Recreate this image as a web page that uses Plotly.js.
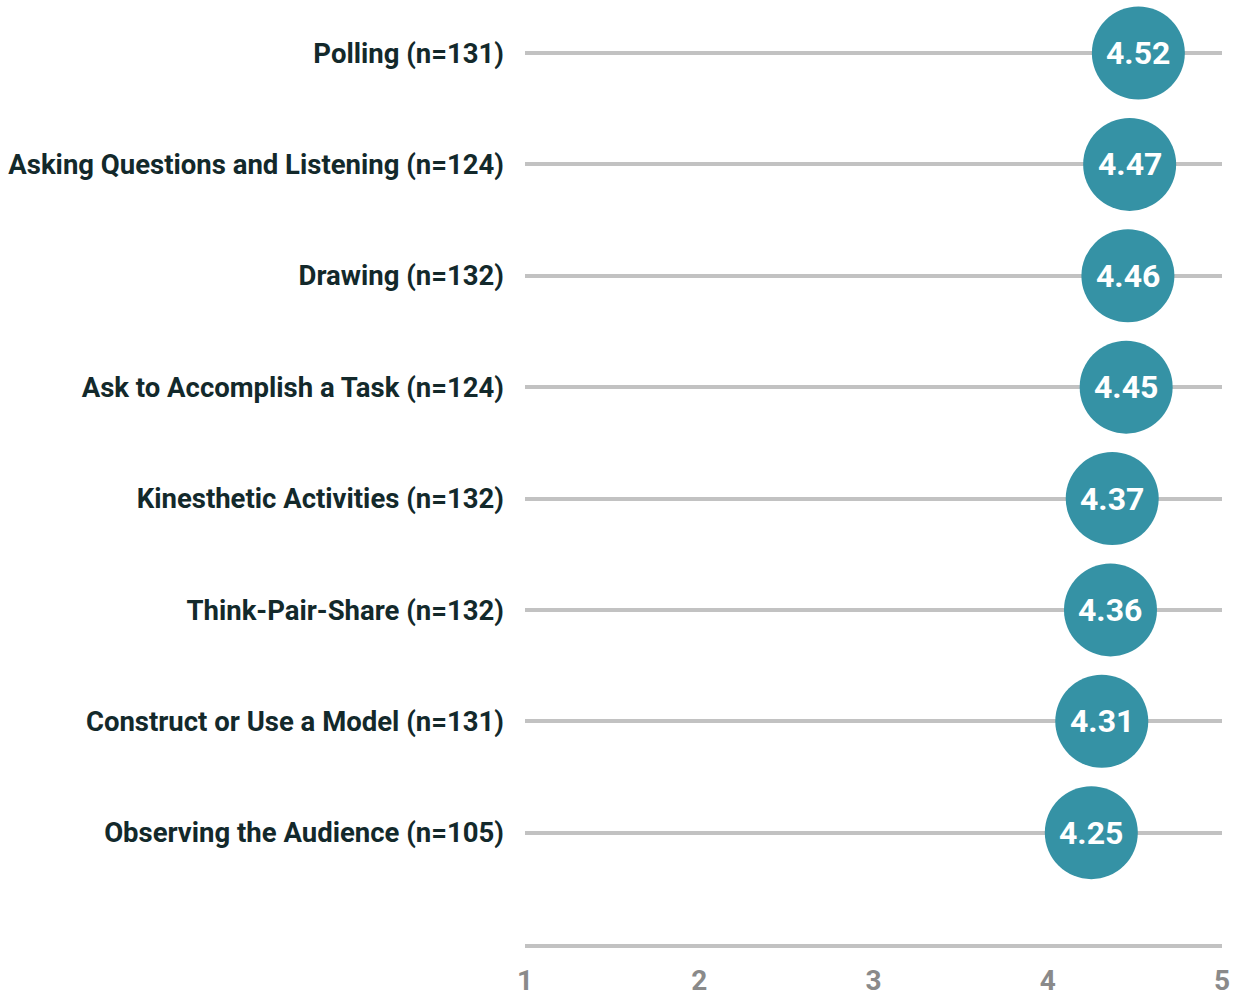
<!DOCTYPE html>
<html>
<head>
<meta charset="utf-8">
<script src="https://cdn.plot.ly/plotly-3.0.1.min.js"></script>
<style>
html,body{margin:0;padding:0;background:#fff;}
#chart{width:1245px;height:998px;}
</style>
</head>
<body>
<div id="chart"></div>
<script>
const categories = [
  "Polling (n=131)",
  "Asking Questions and Listening (n=124)",
  "Drawing (n=132)",
  "Ask to Accomplish a Task (n=124)",
  "Kinesthetic Activities (n=132)",
  "Think-Pair-Share (n=132)",
  "Construct or Use a Model (n=131)",
  "Observing the Audience (n=105)"
];
const scores = [4.52, 4.47, 4.46, 4.45, 4.37, 4.36, 4.31, 4.25];
const xTicks = [1, 2, 3, 4, 5];

const n = categories.length;
const ypos = categories.map((c, i) => n - i);
const FONT = "Roboto, 'DejaVu Sans', sans-serif";

const trace = {
  type: 'scatter',
  mode: 'markers',
  x: scores,
  y: ypos,
  marker: {size: 93, color: '#3592a5', line: {width: 0}},
  cliponaxis: false,
  hoverinfo: 'skip'
};

const annotations = scores.map((v, i) => ({
  x: v, y: ypos[i], xref: 'x', yref: 'y',
  text: v.toFixed(2), showarrow: false,
  xanchor: 'center', yanchor: 'middle',
  font: {family: FONT, size: 32, color: '#ffffff', weight: 'bold'}
}));

const layout = {
  width: 1245, height: 998,
  margin: {l: 525, r: 23, t: 0, b: 54},
  paper_bgcolor: '#ffffff', plot_bgcolor: '#ffffff',
  showlegend: false,
  annotations: annotations,
  xaxis: {
    range: [1, 5],
    tickvals: xTicks,
    ticktext: xTicks.map(String),
    showgrid: false, zeroline: false,
    showline: true, linecolor: '#c2c2c2', linewidth: 4,
    ticks: '', ticklabelstandoff: 8,
    tickfont: {family: FONT, size: 28, color: '#8a8a8a', weight: 'bold'},
    fixedrange: true
  },
  yaxis: {
    range: [0, n + 0.476],
    tickvals: ypos,
    ticktext: categories,
    showgrid: true, gridcolor: '#c2c2c2', gridwidth: 4,
    zeroline: false, showline: false,
    ticks: '', ticklabelstandoff: 20,
    tickfont: {family: FONT, size: 27.5, color: '#13292b', weight: 'bold'},
    fixedrange: true
  }
};

Plotly.newPlot('chart', [trace], layout, {displayModeBar: false, staticPlot: true});
</script>
</body>
</html>
